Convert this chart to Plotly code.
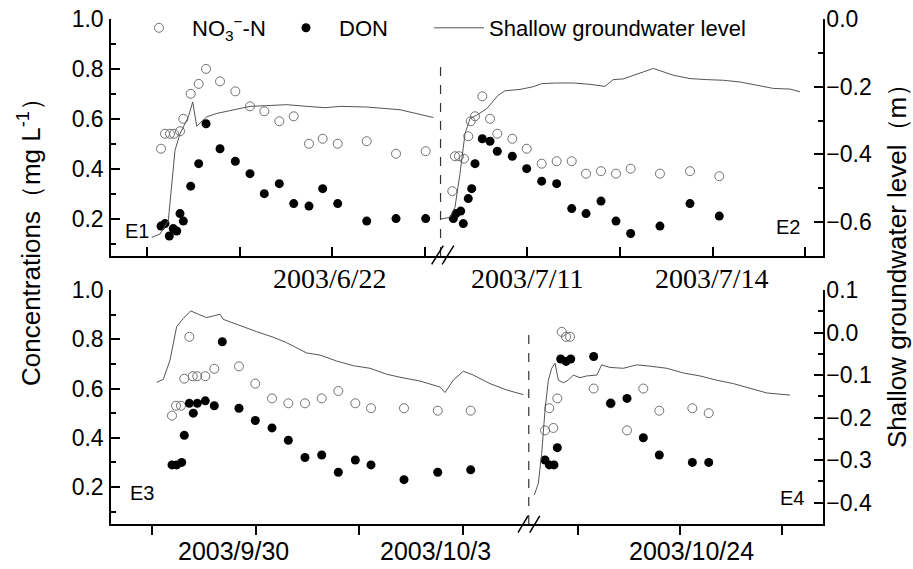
import plotly.graph_objects as go

# ---------------- data (x = days along the plotted, broken time axis; one tick every 1.5 d)
# Top panel: events E1 (left of break) and E2 (right of break)
e1_no3_x = [0.227, 0.292, 0.373, 0.438, 0.535, 0.589, 0.709, 0.838, 0.957, 1.184, 1.432, 1.670, 1.902, 2.145,
            2.379, 2.627, 2.849, 3.092, 3.563, 4.038, 4.519]
e1_no3_y = [0.48, 0.54, 0.54, 0.54, 0.55, 0.60, 0.70, 0.74, 0.80, 0.75, 0.71, 0.65, 0.63, 0.59, 0.61, 0.50, 0.52,
            0.50, 0.51, 0.46, 0.47]
e1_don_x = [0.227, 0.292, 0.362, 0.426, 0.482, 0.535, 0.589, 0.709, 0.838, 0.957, 1.184, 1.432, 1.670, 1.902,
            2.145, 2.379, 2.627, 2.849, 3.092, 3.563, 4.038, 4.519]
e1_don_y = [0.17, 0.18, 0.13, 0.16, 0.15, 0.22, 0.19, 0.33, 0.42, 0.58, 0.48, 0.43, 0.38, 0.30, 0.34, 0.26, 0.25,
            0.32, 0.26, 0.19, 0.20, 0.20]
e1_gw_x = [0.076, 0.211, 0.345, 0.401, 0.454, 0.535, 0.670, 0.741, 0.806, 0.859, 0.968, 1.130, 1.399, 1.670, 1.941,
           2.265, 2.590, 2.886, 3.130, 3.563, 4.103, 4.373, 4.643]
e1_gw_y = [-0.645, -0.635, -0.596, -0.497, -0.388, -0.339, -0.289, -0.245, -0.317, -0.307, -0.289, -0.279, -0.268,
           -0.258, -0.256, -0.253, -0.258, -0.262, -0.258, -0.260, -0.268, -0.279, -0.291]

e2_no3_x = [4.951, 4.994, 5.059, 5.140, 5.210, 5.249, 5.319, 5.437, 5.562, 5.680, 5.924, 6.157, 6.400, 6.643,
            6.887, 7.119, 7.362, 7.605, 7.843, 8.318, 8.805, 9.280]
e2_no3_y = [0.31, 0.45, 0.45, 0.44, 0.53, 0.59, 0.61, 0.69, 0.60, 0.54, 0.52, 0.48, 0.42, 0.43, 0.43, 0.38, 0.39,
            0.38, 0.40, 0.38, 0.39, 0.37]
e2_don_x = [4.967, 5.011, 5.087, 5.129, 5.210, 5.265, 5.319, 5.437, 5.562, 5.680, 5.924, 6.157, 6.400, 6.643,
            6.887, 7.119, 7.362, 7.605, 7.843, 8.318, 8.805, 9.280]
e2_don_y = [0.20, 0.22, 0.23, 0.18, 0.28, 0.32, 0.42, 0.52, 0.51, 0.47, 0.45, 0.40, 0.35, 0.34, 0.24, 0.22, 0.27,
            0.19, 0.14, 0.17, 0.26, 0.21]
e2_gw_x = [4.751, 4.913, 4.994, 5.075, 5.157, 5.238, 5.346, 5.508, 5.697, 5.805, 6.048, 6.264, 6.400, 6.643, 6.913,
           7.183, 7.427, 7.561, 7.723, 7.994, 8.210, 8.534, 8.805, 9.076, 9.345, 9.616, 9.887, 10.156, 10.427, 10.589]
e2_gw_y = [-0.591, -0.586, -0.556, -0.457, -0.339, -0.294, -0.284, -0.265, -0.225, -0.212, -0.208, -0.200, -0.191,
           -0.189, -0.189, -0.193, -0.199, -0.179, -0.177, -0.159, -0.146, -0.166, -0.176, -0.179, -0.181, -0.186,
           -0.196, -0.205, -0.207, -0.215]

# Bottom panel: events E3 (left of break) and E4 (right of break)
e3_no3_x = [0.289, 0.347, 0.419, 0.467, 0.540, 0.589, 0.655, 0.771, 0.901, 1.258, 1.494, 1.736, 1.972, 2.213,
            2.455, 2.695, 2.941, 3.168, 3.645, 4.133, 4.610]
e3_no3_y = [0.49, 0.53, 0.53, 0.64, 0.81, 0.65, 0.65, 0.65, 0.68, 0.69, 0.62, 0.56, 0.54, 0.54, 0.56, 0.59, 0.54,
            0.52, 0.52, 0.51, 0.51]
e3_don_x = [0.289, 0.357, 0.430, 0.467, 0.540, 0.597, 0.655, 0.771, 0.901, 1.017, 1.258, 1.494, 1.736, 1.972,
            2.213, 2.455, 2.695, 2.941, 3.168, 3.645, 4.133, 4.610]
e3_don_y = [0.29, 0.29, 0.30, 0.41, 0.54, 0.50, 0.54, 0.55, 0.53, 0.79, 0.52, 0.47, 0.44, 0.39, 0.32, 0.33, 0.26,
            0.31, 0.29, 0.23, 0.26, 0.27]
e3_gw_x = [0.068, 0.163, 0.260, 0.357, 0.453, 0.560, 0.670, 0.791, 0.887, 0.984, 1.031, 1.273, 1.515, 1.755, 1.949,
           2.238, 2.430, 2.672, 2.912, 3.153, 3.395, 3.587, 3.877, 4.166, 4.238, 4.358, 4.503, 4.648, 4.889, 5.131,
           5.371]
e3_gw_y = [-0.117, -0.110, -0.065, 0.014, 0.033, 0.051, 0.043, 0.035, 0.039, 0.043, 0.031, 0.016, 0.002, -0.011,
           -0.024, -0.048, -0.053, -0.067, -0.078, -0.084, -0.098, -0.105, -0.114, -0.128, -0.141, -0.112, -0.091,
           -0.100, -0.120, -0.135, -0.146]

e4_no3_x = [5.685, 5.747, 5.805, 5.863, 5.927, 5.989, 6.047, 6.389, 6.635, 6.871, 7.107, 7.338, 7.816, 8.053]
e4_no3_y = [0.43, 0.52, 0.44, 0.56, 0.83, 0.81, 0.81, 0.60, 0.54, 0.43, 0.60, 0.51, 0.52, 0.50]
e4_don_x = [5.685, 5.747, 5.815, 5.863, 5.912, 5.989, 6.057, 6.389, 6.635, 6.871, 7.107, 7.338, 7.816, 8.053]
e4_don_y = [0.31, 0.29, 0.29, 0.36, 0.72, 0.71, 0.72, 0.73, 0.54, 0.56, 0.40, 0.33, 0.30, 0.30]
e4_gw_x = [5.530, 5.588, 5.637, 5.685, 5.733, 5.782, 5.830, 5.878, 5.950, 6.022, 6.094, 6.191, 6.288, 6.433, 6.505,
           6.625, 6.818, 7.011, 7.204, 7.445, 7.686, 7.927, 8.169, 8.409, 8.650, 8.892, 9.229]
e4_gw_y = [-0.382, -0.355, -0.284, -0.182, -0.112, -0.084, -0.072, -0.112, -0.118, -0.112, -0.100, -0.106, -0.102,
           -0.100, -0.076, -0.082, -0.084, -0.076, -0.079, -0.084, -0.095, -0.102, -0.112, -0.120, -0.131, -0.142,
           -0.147]

# axis ticks / labels
top_ticks = [0, 1.5, 3, 4.5, 6.16, 7.67, 9.18, 10.67]
top_date_labels = ["2003/6/22", "2003/7/11", "2003/7/14"]
top_date_pos = [2.967, 6.162, 9.157]
bot_ticks = [0, 1.5, 3, 4.5, 6.16, 7.64, 9.11]
bot_date_labels = ["2003/9/30", "2003/10/3", "2003/10/24"]
bot_date_pos = [1.172, 4.108, 7.807]
top_break = 4.76
bot_break = 5.45
event_labels = ["E1", "E2", "E3", "E4"]

SANS = "Liberation Sans, Arial, sans-serif"
SERIF = "Liberation Serif, Times New Roman, serif"

no3_marker = dict(symbol="circle-open", size=9, color="#707070", line=dict(width=1, color="#707070"))
don_marker = dict(symbol="circle", size=9, color="black")
gw_line = dict(color="#555555", width=1)

fig = go.Figure()
# top panel
fig.add_trace(go.Scatter(x=e1_no3_x + e2_no3_x, y=e1_no3_y + e2_no3_y, mode="markers", marker=no3_marker,
                         name="NO<sub>3</sub><sup>−</sup>-N", xaxis="x", yaxis="y", legend="legend"))
fig.add_trace(go.Scatter(x=e1_don_x + e2_don_x, y=e1_don_y + e2_don_y, mode="markers", marker=don_marker,
                         name="DON", xaxis="x", yaxis="y", legend="legend"))
fig.add_trace(go.Scatter(x=e1_gw_x + [None] + e2_gw_x, y=e1_gw_y + [None] + e2_gw_y, mode="lines", line=gw_line,
                         name="Shallow groundwater level", xaxis="x", yaxis="y2", legend="legend2"))
# bottom panel
fig.add_trace(go.Scatter(x=e3_no3_x + e4_no3_x, y=e3_no3_y + e4_no3_y, mode="markers", marker=no3_marker,
                         showlegend=False, xaxis="x2", yaxis="y3"))
fig.add_trace(go.Scatter(x=e3_don_x + e4_don_x, y=e3_don_y + e4_don_y, mode="markers", marker=don_marker,
                         showlegend=False, xaxis="x2", yaxis="y3"))
fig.add_trace(go.Scatter(x=e3_gw_x + [None] + e4_gw_x, y=e3_gw_y + [None] + e4_gw_y, mode="lines", line=gw_line,
                         showlegend=False, xaxis="x2", yaxis="y4"))

tickfont = dict(family=SANS, size=23, color="black")
minor_y = dict(ticks="inside", ticklen=5, tickwidth=1.5, tickcolor="black", tick0=0)
common_y = dict(showline=True, linecolor="black", linewidth=1.5, ticks="inside", ticklen=9, tickwidth=1.5,
                tickcolor="black", showgrid=False, zeroline=False, tickfont=tickfont, tickformat=".1f",
                automargin=False)
common_x = dict(showline=True, linecolor="black", linewidth=1.5, ticklen=9, tickwidth=1.5, tickcolor="black",
                showgrid=False, zeroline=False, showticklabels=False, tickmode="array", automargin=False)

# plot area spans pixel rows 0..524 (t=0, b=45); panels placed inside it
H = 524.0
top_dom = [(H - 256) / H, (H - 19) / H]
bot_dom = [0.0, (H - 290) / H]

fig.update_layout(
    template="none",
    width=913, height=569,
    margin=dict(l=111, r=90, t=0, b=45, pad=0),
    paper_bgcolor="white", plot_bgcolor="white",
    xaxis=dict(common_x, domain=[0, 1], anchor="y", range=[-0.584, 10.962], tickvals=top_ticks, ticks="inside"),
    yaxis=dict(common_y, domain=top_dom, anchor="x", range=[0.05, 1.0], tick0=0, dtick=0.2,
               ticklabelstandoff=1, minor=dict(minor_y, dtick=0.1)),
    yaxis2=dict(common_y, overlaying="y", side="right", anchor="x", range=[-0.70, 0.0], tick0=0, dtick=0.2,
                ticklabelstandoff=-3, minor=dict(minor_y, dtick=0.1)),
    xaxis2=dict(common_x, domain=[0, 1], anchor="y3", range=[-0.593, 9.706], tickvals=bot_ticks, ticks="outside"),
    yaxis3=dict(common_y, domain=bot_dom, anchor="x2", range=[0.05, 1.0], tick0=0, dtick=0.2,
                ticklabelstandoff=1, minor=dict(minor_y, dtick=0.1)),
    yaxis4=dict(common_y, overlaying="y3", side="right", anchor="x2", range=[-0.45, 0.1], tick0=0, dtick=0.1,
                ticklabelstandoff=-3, minor=dict(minor_y, dtick=0.05)),
    legend=dict(orientation="h", x=(126 - 111) / 712, xanchor="left", y=(H - 28) / H, yanchor="middle",
                bgcolor="rgba(0,0,0,0)", font=dict(family=SANS, size=22, color="black"),
                itemwidth=56, entrywidthmode="pixels", entrywidth=76, borderwidth=0),
    legend2=dict(orientation="h", x=(429 - 111) / 712, xanchor="left", y=(H - 28) / H, yanchor="middle",
                 bgcolor="rgba(0,0,0,0)", font=dict(family=SANS, size=22, color="black"), borderwidth=0,
                 itemwidth=50),
    showlegend=True,
)

annotations = []
for txt, pos in zip(top_date_labels, top_date_pos):
    annotations.append(dict(text=txt, x=pos, xref="x", y=-0.097, yref="y domain", showarrow=False,
                            xanchor="center", yanchor="middle", font=dict(family=SERIF, size=28, color="black")))
for txt, pos in zip(bot_date_labels, bot_date_pos):
    annotations.append(dict(text=txt, x=pos, xref="x2", y=-0.117, yref="y3 domain", showarrow=False,
                            xanchor="center", yanchor="middle", font=dict(family=SANS, size=25, color="black")))
ev_pos = [(-0.16, 0.151, "x", "y"), (10.39, 0.167, "x", "y"), (-0.149, 0.174, "x2", "y3"), (9.253, 0.154, "x2", "y3")]
for txt, (ex, ey, xr, yr) in zip(event_labels, ev_pos):
    annotations.append(dict(text=txt, x=ex, y=ey, xref=xr, yref=yr, showarrow=False, xanchor="center",
                            yanchor="middle", font=dict(family=SANS, size=20, color="black")))
annotations.append(dict(text="Concentrations（mg L<sup>-1</sup>）", textangle=-90, x=(29 - 111) / 712,
                        xref="paper", y=(H - 236) / H, yref="paper", showarrow=False, xanchor="center",
                        yanchor="middle", font=dict(family=SANS, size=26, color="black")))
annotations.append(dict(text="Shallow groundwater level（m）", textangle=-90, x=(897 - 111) / 712,
                        xref="paper", y=(H - 260) / H, yref="paper", showarrow=False, xanchor="center",
                        yanchor="middle", font=dict(family=SANS, size=26, color="black")))
fig.update_layout(annotations=annotations)

shapes = []
# dashed separators between events
shapes.append(dict(type="line", xref="x", yref="y", x0=top_break, x1=top_break, y0=0.05, y1=0.815,
                   line=dict(color="#333333", width=1.2, dash="dash")))
shapes.append(dict(type="line", xref="x2", yref="y3", x0=bot_break, x1=bot_break, y0=0.05, y1=0.851,
                   line=dict(color="#333333", width=1.2, dash="dash")))
# axis break marks "//"
for dx in (0.0, 0.17):
    shapes.append(dict(type="line", xref="x", yref="y domain", x0=4.616 + dx, x1=4.805 + dx, y0=-0.035, y1=0.044,
                       line=dict(color="black", width=1.5)))
for dx in (0.0, 0.17):
    shapes.append(dict(type="line", xref="x2", yref="y3 domain", x0=5.294 + dx, x1=5.439 + dx, y0=-0.037,
                       y1=0.035, line=dict(color="black", width=1.5)))
fig.update_layout(shapes=shapes)

# remove the default 8px page margin so the figure sits at the window's top-left corner
fig.write_html("out.html", config={"displayModeBar": False},
               post_script="document.body.style.margin='0px';")
